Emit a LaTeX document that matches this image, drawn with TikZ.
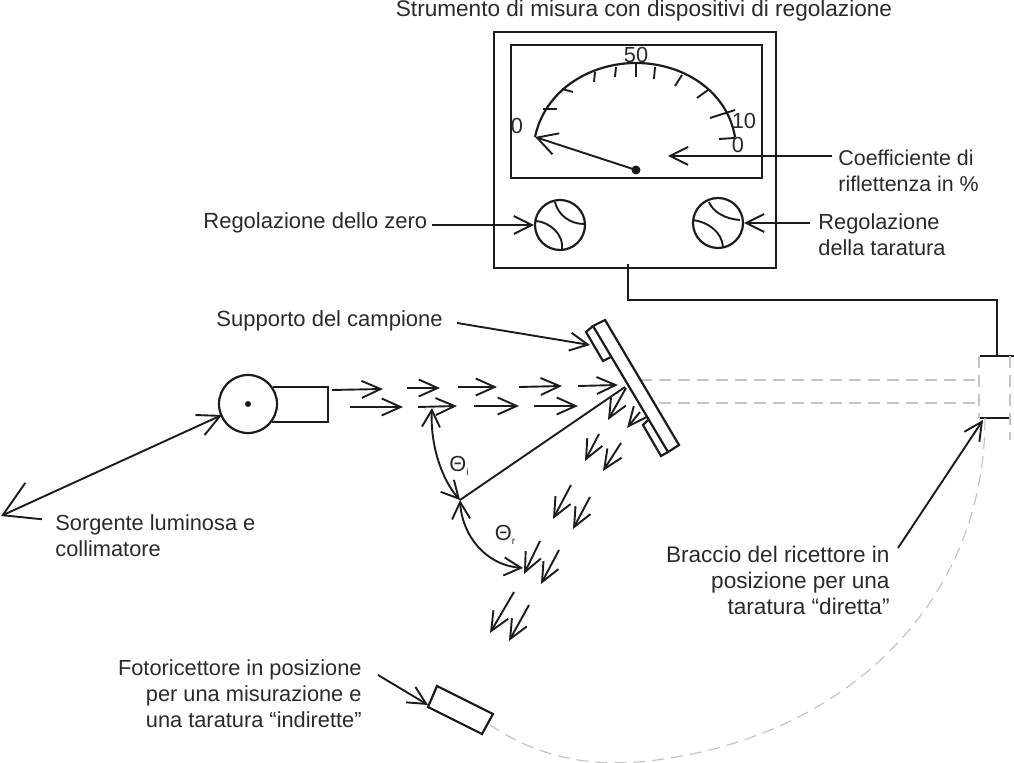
\documentclass[tikz,border=0pt]{standalone}
\usepackage{fontspec}
\setmainfont{Liberation Sans}
\usepackage{xcolor}
\definecolor{inchiostro}{HTML}{1C1C1C}
\definecolor{testoScuro}{HTML}{2A2A2A}
\definecolor{grigioRaggio}{HTML}{C4C4C4}
\usetikzlibrary{arrows.meta, positioning, calc}
\tikzset{
  %% ── Linee ────────────────────────────────────────────────────────────
  tratto/.style     = {draw=inchiostro, line width=1.1pt},
  trattoFine/.style = {draw=inchiostro, line width=0.95pt},
  freccia/.style    = {trattoFine, -{Straight Barb[length=9pt, width=9pt]}},
  frecciaIndice/.style = {trattoFine, -{Straight Barb[length=10pt, width=11pt]}},
  frecciaLunga/.style = {trattoFine, {Straight Barb[length=17pt, width=20pt]}-{Straight Barb[length=11pt, width=11pt]}},
  frecciaDoppia/.style = {trattoFine, {Straight Barb[length=8.5pt, width=9pt]}-{Straight Barb[length=8.5pt, width=9pt]}},
  raggio/.style     = {trattoFine, -{Straight Barb[length=9.5pt, width=8.5pt]}},
  tacca/.style      = {draw=inchiostro, line width=0.95pt},
  tratteggio/.style = {draw=grigioRaggio, line width=0.6pt, dash pattern=on 6pt off 3.5pt},
  %% ── Testo ────────────────────────────────────────────────────────────
  etichetta/.style  = {font=\fontsize{10.9}{13}\selectfont, text=testoScuro, inner sep=0pt},
  etichettaSx/.style = {etichetta, anchor=west, align=left},
  etichettaDx/.style = {etichetta, anchor=east, align=right},
  titoloStrum/.style = {etichetta, font=\fontsize{11.3}{13}\selectfont},
}
\begin{document}
\begin{tikzpicture}[x=0.5pt, y=-0.5pt]
\useasboundingbox (0,0) rectangle (1014,763);

%% Lo strumento: cassa, quadrante e scala.
\node[titoloStrum] (titolo) at (644,11) {Strumento di misura con dispositivi di regolazione};
\draw[tratto] (494,32) rectangle (776,268);
\draw[tratto] (511,45) rectangle (762,178);
\coordinate (scalaIn) at (535,137);
\coordinate (scalaFin) at (735,137);
\draw[tratto] (scalaIn) .. controls (545,90) and (590,63) .. (636,63)
                        .. controls (682,63) and (727,90) .. (scalaFin);
\foreach \xa/\ya/\xb/\yb in {543/109/557/109, 562/89/573/92, 595/72/594/82, 616/67/615/77,
                             636/63/636/77, 655/67/654/79, 682/75/675/86, 708/90/697/98,
                             735/110/710/118, 735/138/719/139}
  \draw[tacca] (\xa,\ya) -- (\xb,\yb);
\node[etichetta] (zeroSx) at (517,126) {0};
\node[etichetta] (cinquanta) at (636,55) {50};
\node[etichetta] (dieci) at (744,121) {10};
\node[etichetta] (zeroDx) at (738,145) {0};

%% L'indice.
\coordinate (perno) at (636,170);
\fill[inchiostro] (perno) circle (4.5);
\draw[frecciaIndice] (perno) -- (scalaIn);

%% Le due manopole.
\foreach \cx/\cy/\nome in {560/225/manoSx, 718/223/manoDx}
  \node[draw=inchiostro, line width=1.1pt, circle, minimum size=25pt, inner sep=0pt] (\nome) at (\cx,\cy) {};
\draw[trattoFine] (555,202) .. controls (558,215) and (570,224) .. (584,224);
\draw[trattoFine] (536,221) .. controls (550,222) and (564,235) .. (562,249);
\draw[trattoFine] (709,202) .. controls (713,212) and (725,219) .. (740,220);
\draw[trattoFine] (693,220) .. controls (708,222) and (722,232) .. (723,247);

\node[etichettaSx, font=\fontsize{11}{13}\selectfont] (zero) at (203,223) {Regolazione dello zero};
\node[etichettaSx, font=\fontsize{10.7}{13}\selectfont] (coeff) at (838,171) {Coefficiente di\\riflettenza in \%};
\node[etichettaSx] (taratura) at (818,235) {Regolazione\\della taratura};
\coordinate (puntaCoeff) at (668,156);
\coordinate (codaCoeff) at (832,156);
\coordinate (codaZero) at (432,225);
\coordinate (codaTar) at (810,223);
\draw[freccia] (codaCoeff) -- (puntaCoeff);
\draw[freccia] (codaZero) -- (manoSx.west);
\draw[freccia] (codaTar) -- (manoDx.east);

%% Il collegamento verso il ricettore.
\coordinate (uscita) at (628,264);
\coordinate (ricTesta) at (997,356);
\draw[tratto] (uscita) |- (ricTesta |- 0,300) -- (ricTesta);

%% Il ricettore in posizione diretta.
\draw[tratto] (980,356) -- (1014,356);
\draw[tratto] (980,418) -- (1010,418);
\draw[tratteggio] (979,356) -- (979,418);
\draw[tratteggio] (1010,356) -- (1010,440);
\draw[tratteggio] (640,380) -- (979,380);
\draw[tratteggio] (640,403) -- (979,403);

%% La sorgente e il collimatore.
\node[draw=inchiostro, line width=1.1pt, circle, minimum size=29pt, inner sep=0pt] (sorgente) at (248,404) {};
\fill[inchiostro] (sorgente.center) circle (3);
\draw[tratto] (273,387) -- (328,387) -- (328,422) -- (272,422);
\node[etichettaSx] (testoSorgente) at (55,536) {Sorgente luminosa e\\collimatore};
\coordinate (puntaLontana) at (1,516);
\coordinate (puntaSorgente) at (222,415);
\draw[frecciaLunga] (puntaLontana) -- (puntaSorgente);

%% I raggi incidenti.
\foreach \xa/\ya/\xb/\yb in {332/390/383/389, 407/388/440/388, 458/387/497/387,
                             519/387/562/386, 578/386/618/385, 350/407/403/407,
                             418/407/457/406, 474/406/519/406, 534/406/578/406}
  \draw[raggio] (\xa,\ya) -- (\xb,\yb);

%% I raggi riflessi.
\foreach \xa/\ya/\xb/\yb in {626/388/608/420, 640/412/627/428, 599/434/585/461,
                             621/443/603/471, 571/485/553/519, 590/497/573/529,
                             540/541/524/574, 559/550/541/584, 514/592/490/633,
                             529/605/509/641}
  \draw[raggio] (\xa,\ya) -- (\xb,\yb);

%% Il campione sul suo supporto.
\draw[tratto, fill=white] (593,326) -- (605,320) -- (679,445) -- (668,452) -- cycle;
\draw[tratto] (593,326) -- (586,332) -- (603,361) -- (611,357);
\draw[tratto] (648,420) -- (643,425) -- (661,456) -- (668,452);
\node[etichettaSx, font=\fontsize{11}{13}\selectfont] (supporto) at (216,321) {Supporto del campione};
\coordinate (codaSupp) at (457,323);
\coordinate (puntaSupp) at (590,345);
\draw[freccia] (codaSupp) -- (puntaSupp);

%% Gli angoli.
\coordinate (vertice) at (460,500);
\coordinate (normale) at (625,387);
\coordinate (fineI) at (432,408);
\coordinate (fineR) at (523,568);
\draw[trattoFine] (vertice) -- (normale);
\draw[frecciaDoppia] (vertice) .. controls (442,480) and (430,445) .. (fineI);
\draw[frecciaDoppia] (vertice) .. controls (462,535) and (485,565) .. (fineR);
\node[etichetta] (tetaI) at (459,466) {Θ\raisebox{-2pt}{\fontsize{5}{6}\selectfont i}};
\node[etichetta] (tetaR) at (505,535) {Θ\raisebox{-2pt}{\fontsize{5}{6}\selectfont r}};

%% Il braccio e la sua corsa.
\node[etichettaDx, font=\fontsize{11.3}{13}\selectfont] (braccio) at (890,580) {Braccio del ricettore in\\posizione per una\\taratura “diretta”};
\coordinate (codaBraccio) at (898,548);
\coordinate (puntaBraccio) at (983,420);
\draw[freccia] (codaBraccio) -- (puntaBraccio);
\draw[tratteggio] (985,418) .. controls (985,600) and (850,730) .. (670,758)
                  .. controls (610,768) and (550,765) .. (490,725);

%% Il fotoricettore in posizione indiretta.
\draw[tratto] (437,686) -- (493,714) -- (482,734) -- (428,707) -- cycle;
\node[etichettaDx] (foto) at (362,694) {Fotoricettore in posizione\\per una misurazione e\\una taratura “indirette”};
\coordinate (codaFoto) at (378,675);
\coordinate (puntaFoto) at (428,705);
\draw[freccia] (codaFoto) -- (puntaFoto);

\end{tikzpicture}
\end{document}
